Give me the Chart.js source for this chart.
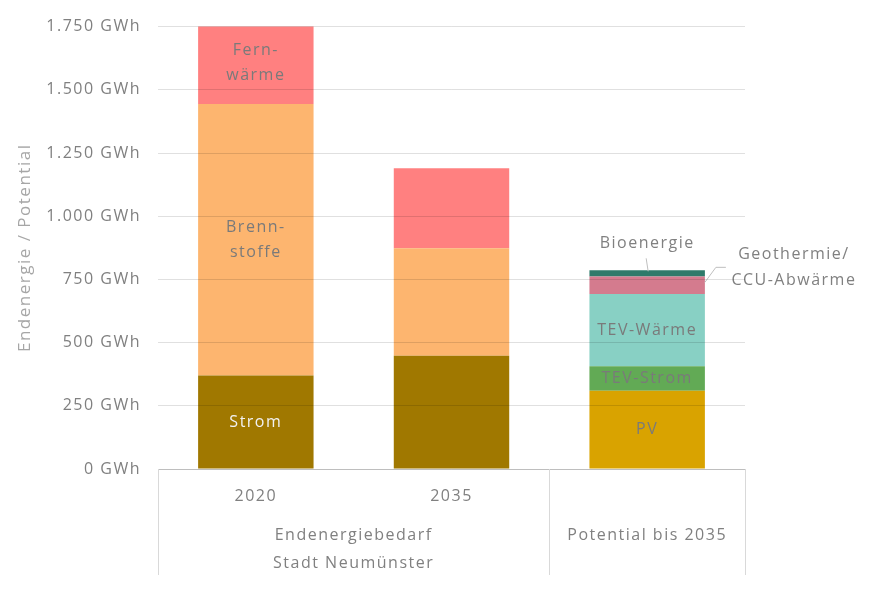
<!DOCTYPE html>
<html>
<head>
<meta charset="utf-8">
<script src="https://cdn.jsdelivr.net/npm/chart.js@4/dist/chart.umd.min.js"></script>
<style>
  html, body { margin: 0; padding: 0; background: #fff; }
  #wrap { width: 874px; height: 596px; }
</style>
</head>
<body>
<div id="wrap"><canvas id="chart"></canvas></div>
<script>
// categories (first level) and groups (second level)
var categories = ['2020', '2035', ''];
var groupLabels = [['Endenergiebedarf', 'Stadt Neumünster'], 'Potential bis 2035'];
var groupCenters = [0.5, 2];
var groupEdges = [-0.5, 1.5, 2.5];

// values in GWh
var strom       = [370, 448, null];
var brennstoffe = [1074, 425, null];
var fernwaerme  = [322, 317, null];
var pv          = [null, null, 310];
var tevStrom    = [null, null, 96];
var tevWaerme   = [null, null, 286];
var geothermie  = [null, null, 69];
var bioenergie  = [null, null, 25];

var yTicks = [0, 250, 500, 750, 1000, 1250, 1500, 1750];

var FONT = "'Open Sans', 'Noto Sans', sans-serif";
var SPACING = '1.5px';

function deNumber(v) {
    return String(v).replace(/\B(?=(\d{3})+(?!\d))/g, '.');
}

// the reference text is set a bit wider, so spread letters on the canvas
var letterSpacing = {
    id: 'letterSpacing',
    beforeLayout: function (chart) { chart.ctx.letterSpacing = SPACING; },
    beforeDraw: function (chart) { chart.ctx.letterSpacing = SPACING; }
};

// labels inside / next to the bar segments
var segLabels = {
    id: 'segLabels',
    afterDatasetsDraw: function (chart) {
        var ctx = chart.ctx;
        chart.data.datasets.forEach(function (ds, di) {
            if (!ds.segLabel) return;
            var meta = chart.getDatasetMeta(di);
            meta.data.forEach(function (bar, i) {
                var txt = ds.segLabel[i];
                if (!txt) return;
                var lines = [].concat(txt);
                var cy = (bar.y + bar.base) / 2;
                ctx.save();
                ctx.font = '16px ' + FONT;
                ctx.letterSpacing = SPACING;
                ctx.fillStyle = ds.labelColor || '#7a7a7a';
                ctx.textAlign = 'center';
                ctx.textBaseline = 'middle';
                var lh = 25;
                var tx = bar.x, ty = cy;
                if (ds.callout === 'above') {
                    ctx.strokeStyle = '#bfbfbf';
                    ctx.lineWidth = 1;
                    ctx.beginPath();
                    ctx.moveTo(bar.x - 1, bar.y - 12);
                    ctx.lineTo(bar.x + 1, bar.y + 1);
                    ctx.stroke();
                    ty = bar.y - 27;
                } else if (ds.callout === 'right') {
                    var right = bar.x + bar.width / 2;
                    ctx.strokeStyle = '#bfbfbf';
                    ctx.lineWidth = 1;
                    ctx.beginPath();
                    ctx.moveTo(right, cy - 3);
                    ctx.lineTo(right + 11, cy - 18);
                    ctx.lineTo(right + 21, cy - 18);
                    ctx.stroke();
                    tx = right + 89;
                    ty = cy - 18;
                    lh = 26;
                }
                lines.forEach(function (l, k) {
                    ctx.fillText(l, tx, ty + (k - (lines.length - 1) / 2) * lh);
                });
                ctx.restore();
            });
        });
    }
};

// vertical separators of the two-level category axis
var groupSeparators = {
    id: 'groupSeparators',
    afterDraw: function (chart) {
        var ctx = chart.ctx;
        var sx = chart.scales.x2;
        var top = chart.chartArea.bottom;
        var bottom = sx.bottom;
        ctx.save();
        ctx.strokeStyle = '#d9d9d9';
        ctx.lineWidth = 1;
        groupEdges.forEach(function (e) {
            var px = Math.round(sx.getPixelForValue(e)) + 0.5;
            ctx.beginPath();
            ctx.moveTo(px, top);
            ctx.lineTo(px, bottom);
            ctx.stroke();
        });
        ctx.restore();
    }
};

function ds(label, data, color, extra) {
    var d = {
        label: label,
        data: data,
        backgroundColor: color,
        borderWidth: 0,
        barPercentage: 0.59,
        categoryPercentage: 1.0,
        stack: 's'
    };
    for (var k in extra) d[k] = extra[k];
    return d;
}

var ctx = document.getElementById('chart').getContext('2d');
var chart = new Chart(ctx, {
    type: 'bar',
    data: {
        labels: categories,
        datasets: [
            ds('Strom', strom, '#a07800', { segLabel: ['Strom', null, null], labelColor: '#f2f2f2' }),
            ds('Brennstoffe', brennstoffe, '#fdb56f', { segLabel: [['Brenn-', 'stoffe'], null, null] }),
            ds('Fernwärme', fernwaerme, '#ff8080', { segLabel: [['Fern-', 'wärme'], null, null] }),
            ds('PV', pv, '#d9a300', { segLabel: [null, null, 'PV'] }),
            ds('TEV-Strom', tevStrom, '#62aa55', { segLabel: [null, null, 'TEV-Strom'] }),
            ds('TEV-Wärme', tevWaerme, '#88d0c4', { segLabel: [null, null, 'TEV-Wärme'] }),
            ds('Geothermie/CCU-Abwärme', geothermie, '#d47b8e', { segLabel: [null, null, ['Geothermie/', 'CCU-Abwärme']], callout: 'right', labelColor: '#808080' }),
            ds('Bioenergie', bioenergie, '#2e7a6a', { segLabel: [null, null, 'Bioenergie'], callout: 'above', labelColor: '#808080' })
        ]
    },
    options: {
        responsive: true,
        maintainAspectRatio: false,
        animation: false,
        layout: { padding: { left: 15, right: 129, top: 22, bottom: 21 } },
        plugins: {
            legend: { display: false },
            tooltip: { enabled: false }
        },
        scales: {
            x: {
                stacked: true,
                grid: { display: false, drawTicks: false },
                border: { display: true, color: '#d9d9d9' },
                ticks: { color: '#808080', font: { family: FONT, size: 16 }, padding: 18 },
                afterFit: function (scale) { scale.height = 37; }
            },
            x2: {
                type: 'linear',
                position: 'bottom',
                offset: false,
                min: -0.5,
                max: 2.5,
                grid: { display: false, drawTicks: false },
                border: { display: false },
                afterBuildTicks: function (scale) {
                    scale.ticks = groupCenters.map(function (v) { return { value: v }; });
                },
                afterFit: function (scale) { scale.height = 69; },
                ticks: {
                    color: '#808080',
                    font: { family: FONT, size: 16, lineHeight: 1.75 },
                    padding: 15,
                    autoSkip: false,
                    maxRotation: 0,
                    callback: function (value) {
                        var i = groupCenters.indexOf(value);
                        return i >= 0 ? groupLabels[i] : '';
                    }
                }
            },
            y: {
                stacked: true,
                min: 0,
                max: 1750,
                afterBuildTicks: function (scale) {
                    scale.ticks = yTicks.map(function (v) { return { value: v }; });
                },
                afterFit: function (scale) { scale.width = 143; },
                grid: { color: 'rgba(0,0,0,0.12)', z: 1, drawTicks: false },
                border: { display: false },
                ticks: {
                    color: '#808080',
                    font: { family: FONT, size: 16 },
                    padding: 17,
                    callback: function (v) { return deNumber(v) + ' GWh'; }
                },
                title: {
                    display: true,
                    text: 'Endenergie / Potential',
                    color: '#a6a6a6',
                    font: { family: FONT, size: 17 },
                    padding: { top: 0, bottom: 0 }
                }
            }
        }
    },
    plugins: [letterSpacing, segLabels, groupSeparators]
});
</script>
</body>
</html>
